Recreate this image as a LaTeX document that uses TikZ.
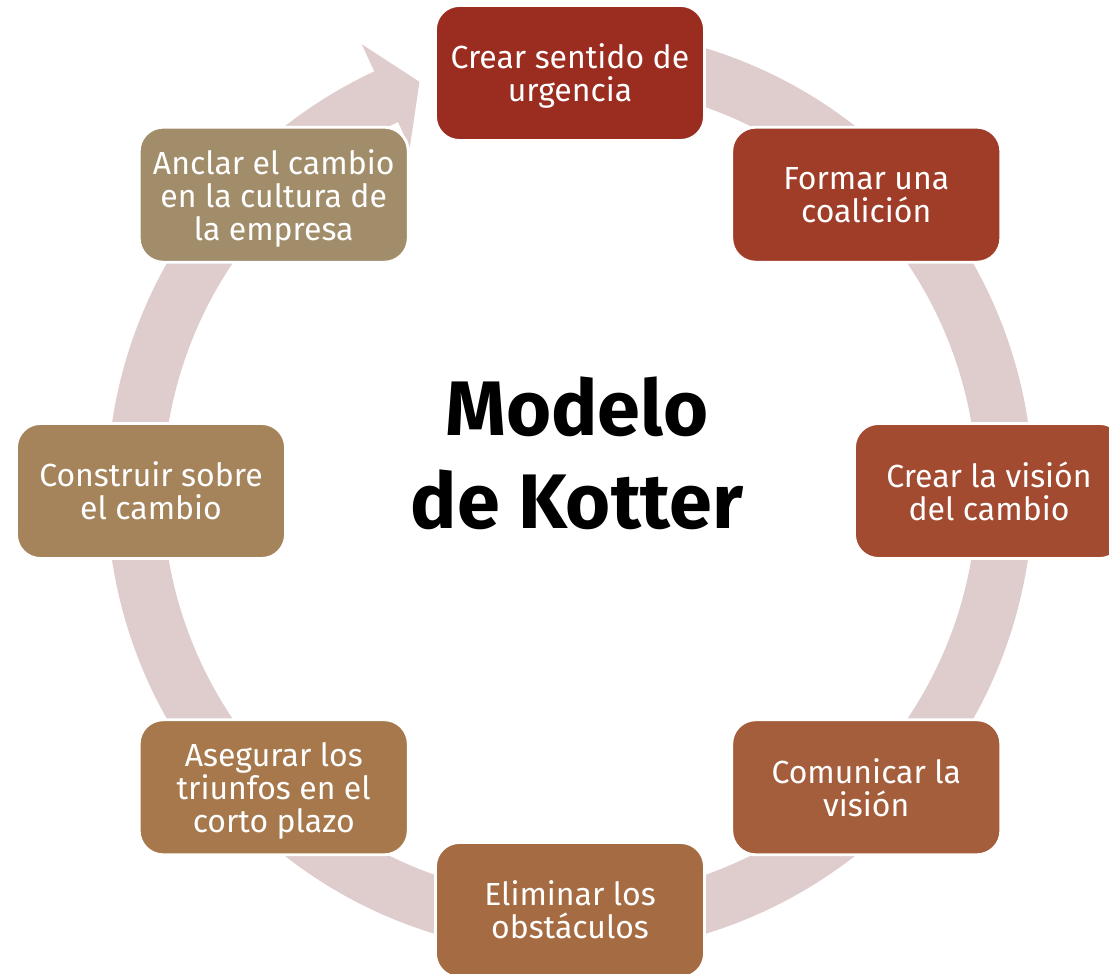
\documentclass[tikz,border=0pt]{standalone}
\usepackage{fontspec}
\setmainfont{Fira Sans}

\definecolor{anillo}{HTML}{DFCDCE}
\definecolor{paso1}{HTML}{9B2C20}
\definecolor{paso2}{HTML}{9F3D28}
\definecolor{paso3}{HTML}{A24B30}
\definecolor{paso4}{HTML}{A45E3B}
\definecolor{paso5}{HTML}{A56B42}
\definecolor{paso6}{HTML}{A6784C}
\definecolor{paso7}{HTML}{A5845B}
\definecolor{paso8}{HTML}{A28D6B}

\begin{document}
\begin{tikzpicture}[
    paso/.style = {draw = white, line width = 0.8pt, rounded corners = 0.24cm,
      minimum width = 2.69cm, minimum height = 1.35cm, align = center,
      text depth = 0pt, text = white, font = \fontsize{9.1}{9.4}\selectfont}
  ]
    \useasboundingbox (-5.70, -4.83) rectangle (5.39, 4.91);
    % circular arrow behind the steps
    \fill[anillo] (80:4.63) arc[start angle = 80, end angle = -245, radius = 4.63]
      -- (115:4.93) -- (110.2:4.36) -- (115:3.79) -- (115:4.07)
      arc[start angle = -245, end angle = 80, radius = 4.07] -- cycle;
    \node[paso, fill = paso1] (crear urgencia) at (90:4.18) {Crear sentido de \\ urgencia};
    \node[paso, fill = paso2] (formar coalicion) at (45:4.19) {Formar una \\ coalición};
    \node[paso, fill = paso3] (crear vision) at (0:4.19) {Crear la visión \\ del cambio};
    \node[paso, fill = paso4] (comunicar vision) at (-45:4.19) {Comunicar la \\ visión};
    \node[paso, fill = paso5] (eliminar obstaculos) at (-90:4.19) {Eliminar los \\ obstáculos};
    \node[paso, fill = paso6] (asegurar triunfos) at (-135:4.19) {Asegurar los \\ triunfos en el \\ corto plazo};
    \node[paso, fill = paso7] (construir cambio) at (180:4.19) {Construir sobre \\ el cambio};
    \node[paso, fill = paso8] (anclar cambio) at (135:4.19) {Anclar el cambio \\ en la cultura de \\ la empresa};
    \node[align = center, font = \bfseries\fontsize{22}{26.5}\selectfont] (modelo kotter) at (0.07, 0.38) {Modelo \\ de Kotter};
  \end{tikzpicture}
\end{document}
